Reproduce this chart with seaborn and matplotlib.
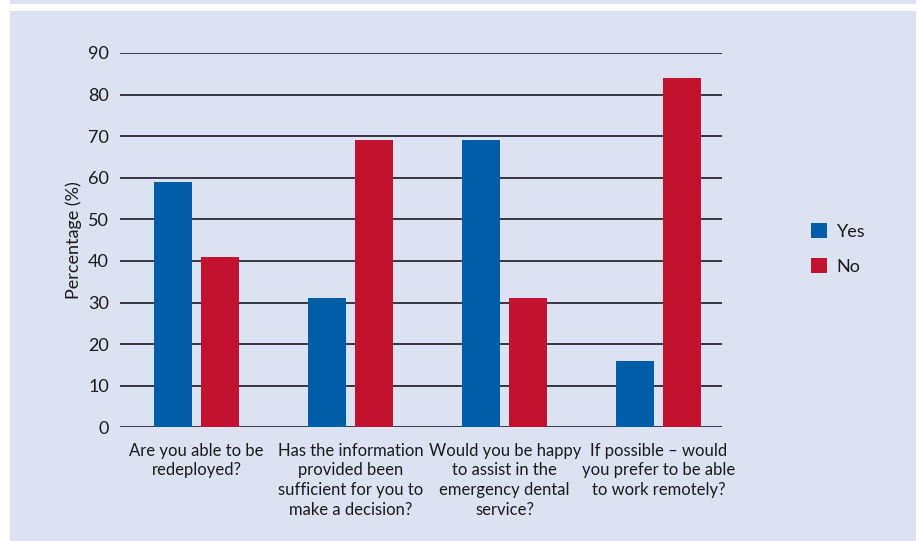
import matplotlib
matplotlib.use("Agg")
import matplotlib.pyplot as plt
from matplotlib.patches import Rectangle
import seaborn as sns
import pandas as pd

# Survey questions and response shares (%)
questions = [
    "Are you able to be\nredeployed?",
    "Has the information\nprovided been\nsufficient for you to\nmake a decision?",
    "Would you be happy\nto assist in the\nemergency dental\nservice?",
    "If possible \u2013 would\nyou prefer to be able\nto work remotely?",
]
yes_pct = [59, 31, 69, 16]
no_pct = [41, 69, 31, 84]
responses = ["Yes", "No"]
y_ticks = [0, 10, 20, 30, 40, 50, 60, 70, 80, 90]

BG = "#DDE2F3"
BLUE = "#005EA8"
RED = "#C3122F"
INK = "#1a1a1a"

df = pd.DataFrame({
    "question": questions * 2,
    "response": [responses[0]] * len(questions) + [responses[1]] * len(questions),
    "pct": yes_pct + no_pct,
})

sns.set_theme(style="white")
plt.rcParams["font.family"] = ["Lato", "DejaVu Sans"]

fig = plt.figure(figsize=(9.2, 5.41), dpi=100, facecolor="white")

# panel background with the thin white border strips
fig.patches.append(Rectangle((10 / 920, 0), 906 / 920, 530 / 541,
                             transform=fig.transFigure, facecolor=BG,
                             edgecolor="none", zorder=-10))
fig.patches.append(Rectangle((10 / 920, 537 / 541), 906 / 920, 4 / 541,
                             transform=fig.transFigure, facecolor=BG,
                             edgecolor="none", zorder=-10))

ax = fig.add_axes([120 / 920, 113.7 / 541, 602 / 920, 374.4 / 541])
ax.set_facecolor("none")

sns.barplot(data=df, x="question", y="pct", hue="response",
            palette={"Yes": BLUE, "No": RED}, width=0.61, gap=0.19,
            saturation=1, linewidth=0, ax=ax, zorder=3, legend=True)

ax.set_ylim(0, 90)
ax.set_xlim(-0.497, 3.41)
ax.set_yticks(y_ticks)
ax.yaxis.grid(True, color="#2a2a33", linewidth=1.3, zorder=0)
ax.set_axisbelow(True)
for s in ax.spines.values():
    s.set_visible(False)

ax.tick_params(axis="both", length=0, colors=INK)
ax.tick_params(axis="y", pad=8, labelsize=13)
ax.tick_params(axis="x", pad=11, labelsize=12)
for t in ax.get_xticklabels():
    t.set_linespacing(1.3)
ax.set_xlabel("")
ax.set_ylabel("Percentage (%)", fontsize=13, color=INK, labelpad=4)

handles, labels = ax.get_legend_handles_labels()
ax.legend_.remove()
fig.legend(handles, labels, loc="center left",
           bbox_to_anchor=(795 / 920, 1 - 249 / 541), frameon=False,
           fontsize=13, handlelength=0.9, handleheight=0.9,
           handletextpad=0.5, labelspacing=1.0, labelcolor=INK)

fig.savefig("out.png", dpi=100, facecolor="white")
